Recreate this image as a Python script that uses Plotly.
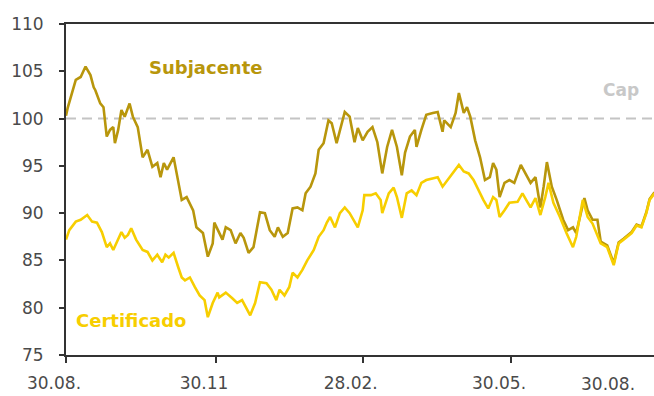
import datetime as dt
import plotly.graph_objects as go

start = dt.date(2006, 8, 30)

# Subjacente (underlying) - day offsets from start and index values
sub_days = [0, 1, 6, 9, 12, 15, 17, 18, 21, 23, 25, 27, 29, 30, 32, 34, 36, 39, 41, 44,
            47, 50, 53, 56, 58, 60, 62, 66, 69, 71, 74, 78, 80, 84, 87, 90, 91, 96, 98, 101,
            104, 107, 109, 112, 115, 119, 122, 125, 128, 130, 133, 136, 139, 142, 145, 147, 150, 153, 155, 158,
            161, 163, 166, 169, 171, 174, 177, 179, 182, 185, 188, 191, 194, 197, 200, 203, 206, 208, 211, 214,
            215, 218, 221, 225, 228, 231, 232, 236, 239, 241, 244, 246, 248, 251, 254, 257, 260, 262, 264, 266,
            269, 272, 275, 279, 282, 285, 288, 291, 293, 295, 298, 301, 305, 308, 311, 313, 318, 320, 323, 326,
            328, 332, 336, 339, 342, 344, 347, 350, 353, 356, 358, 361]
sub_vals = [100.3, 101.1, 104.1, 104.4, 105.5, 104.6, 103.3, 103.0, 101.6, 101.2, 98.1, 98.8, 99.1, 97.4, 98.8, 100.9, 100.2, 101.6, 100.2, 99.1,
            95.9, 96.7, 94.9, 95.3, 93.8, 95.3, 94.6, 95.9, 93.2, 91.4, 91.7, 90.3, 88.5, 87.9, 85.4, 86.8, 89.0, 87.2, 88.5, 88.2,
            86.8, 87.9, 87.4, 85.8, 86.4, 90.1, 90.0, 88.2, 87.5, 88.5, 87.5, 87.9, 90.5, 90.6, 90.3, 92.1, 92.8, 94.2, 96.7, 97.4,
            99.8, 99.5, 97.4, 99.5, 100.7, 100.2, 97.5, 99.0, 97.7, 98.6, 99.1, 97.5, 94.2, 97.0, 98.8, 97.0, 94.0, 96.4, 98.1, 98.8,
            97.0, 98.8, 100.4, 100.6, 100.7, 98.6, 99.8, 99.1, 100.6, 102.7, 100.6, 101.2, 100.2, 97.7, 95.9, 93.5, 93.8, 95.3, 94.6, 91.7,
            93.2, 93.5, 93.2, 95.1, 94.2, 93.2, 93.8, 90.6, 92.8, 95.4, 92.8, 91.4, 89.3, 88.2, 88.5, 87.9, 91.6, 90.3, 89.3, 89.3,
            87.0, 86.6, 84.7, 86.9, 87.3, 87.6, 88.0, 88.8, 88.6, 90.1, 91.5, 92.2]

# Certificado - day offsets from start and values
cert_days = [0, 2, 6, 9, 13, 16, 19, 22, 25, 27, 29, 31, 34, 36, 38, 40, 43, 47, 50, 53,
             56, 59, 61, 63, 66, 69, 71, 73, 76, 79, 82, 85, 87, 90, 93, 94, 98, 102, 105, 108,
             110, 113, 116, 119, 123, 126, 129, 131, 134, 137, 139, 142, 145, 148, 152, 155, 158, 160, 162, 165,
             168, 171, 174, 177, 179, 182, 183, 187, 190, 193, 194, 198, 201, 203, 206, 209, 212, 215, 218, 221,
             225, 228, 231, 234, 237, 241, 244, 247, 250, 253, 256, 259, 262, 264, 266, 269, 272, 277, 280, 283,
             285, 288, 291, 294, 296, 299, 303, 307, 311, 313, 317, 320, 323, 328, 332, 336, 339, 342, 344, 347,
             350, 353, 356, 358, 361]
cert_vals = [87.2, 88.2, 89.1, 89.3, 89.8, 89.1, 89.0, 88.0, 86.4, 86.8, 86.1, 86.9, 88.0, 87.4, 87.7, 88.4, 87.2, 86.1, 85.9, 85.0,
             85.6, 84.8, 85.6, 85.3, 85.8, 84.2, 83.2, 82.9, 83.2, 82.2, 81.3, 80.8, 79.0, 80.5, 81.6, 81.1, 81.6, 81.0, 80.5, 80.8,
             80.1, 79.2, 80.5, 82.7, 82.6, 81.9, 80.8, 81.9, 81.3, 82.2, 83.7, 83.2, 84.0, 85.0, 86.1, 87.5, 88.2, 89.0, 89.6, 88.5,
             90.0, 90.6, 90.0, 89.0, 88.5, 90.3, 91.9, 91.9, 92.1, 91.4, 90.0, 92.1, 92.7, 91.7, 89.5, 92.1, 92.4, 91.9, 93.2, 93.5,
             93.7, 93.8, 92.8, 93.5, 94.2, 95.1, 94.4, 94.2, 93.5, 92.4, 91.4, 90.5, 91.7, 91.4, 89.6, 90.3, 91.1, 91.2, 92.1, 91.2,
             90.6, 91.6, 89.8, 91.7, 93.2, 91.1, 89.6, 87.9, 86.4, 87.5, 91.4, 89.6, 88.9, 86.8, 86.4, 84.5, 86.8, 87.2, 87.5, 87.9,
             88.7, 88.5, 90.0, 91.4, 92.1]

cap_level = 100
tick_days = [0, 92, 182, 273]
tick_text = ["30.08.", "30.11", "28.02.", "30.05."]
last_tick_text = "30.08."

def to_dates(days):
    return [start + dt.timedelta(days=d) for d in days]

SUB_COLOR = "#B8960C"
CERT_COLOR = "#F7CE00"
FONT = "DejaVu Sans"

fig = go.Figure()
fig.add_trace(go.Scatter(x=to_dates(sub_days), y=sub_vals, mode="lines",
                         line=dict(color=SUB_COLOR, width=2.6), name="Subjacente"))
fig.add_trace(go.Scatter(x=to_dates(cert_days), y=cert_vals, mode="lines",
                         line=dict(color=CERT_COLOR, width=2.6), name="Certificado"))

x0 = dt.datetime(2006, 8, 30)
x1 = x0 + dt.timedelta(days=360.7)

fig.add_shape(type="line", xref="paper", x0=0, x1=1, yref="y", y0=cap_level, y1=cap_level,
              line=dict(color="#C4C4C4", width=2, dash="10px,6px"), layer="below")

fig.update_layout(
    width=654, height=396,
    margin=dict(l=66, r=0, t=24, b=41),
    paper_bgcolor="white", plot_bgcolor="white",
    showlegend=False,
    font=dict(family=FONT, size=17, color="#4A4A4A"),
    xaxis=dict(type="date", range=[x0, x1], showgrid=False, zeroline=False,
               showline=True, linecolor="#333333", linewidth=2, mirror=True,
               ticks="outside", ticklen=6, tickwidth=2, tickcolor="#333333",
               tickvals=to_dates(tick_days), ticktext=tick_text,
               ticklabelshift=-12, ticklabelstandoff=6),
    yaxis=dict(range=[75, 110], showgrid=False, zeroline=False,
               showline=True, linecolor="#333333", linewidth=2,
               ticks="outside", ticklen=5, tickwidth=2, tickcolor="#333333",
               tickvals=[75, 80, 85, 90, 95, 100, 105, 110],
               ticklabelstandoff=12),
    annotations=[
        dict(text="<b>Subjacente</b>", xref="paper", x=(205 - 66) / 588, yref="y", y=105.35,
             xanchor="center", yanchor="middle",
             showarrow=False, font=dict(family=FONT, size=18, color=SUB_COLOR)),
        dict(text="<b>Certificado</b>", xref="paper", x=(131 - 66) / 588, yref="y", y=78.7,
             xanchor="center", yanchor="middle",
             showarrow=False, font=dict(family=FONT, size=18, color=CERT_COLOR)),
        dict(text="<b>Cap</b>", xref="paper", x=(621 - 66) / 588, yref="y", y=103.0,
             xanchor="center", yanchor="middle",
             showarrow=False, font=dict(family=FONT, size=17, color="#C8C8C8")),
        dict(text=last_tick_text, xref="paper", x=(608 - 66) / 588, yref="paper", y=-0.088,
             xanchor="center", yanchor="middle",
             showarrow=False, font=dict(family=FONT, size=17, color="#4A4A4A")),
    ],
)

fig.write_html("out.html")
